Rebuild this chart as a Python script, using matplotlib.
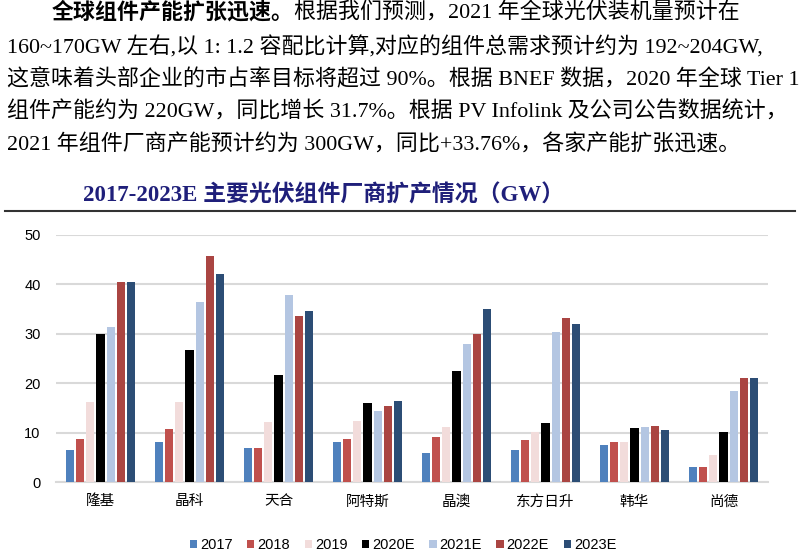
import matplotlib
matplotlib.use("Agg")
import numpy as np
import matplotlib.pyplot as plt
from matplotlib.lines import Line2D

# companies and yearly capacity (GW)
companies = ["隆基", "晶科", "天合", "阿特斯", "晶澳", "东方日升", "韩华", "尚德"]
years = ["2017", "2018", "2019", "2020E", "2021E", "2022E", "2023E"]
v2017 = [6.4, 8.0, 6.9, 8.0, 5.9, 6.5, 7.5, 3.0]
v2018 = [8.7, 10.7, 6.9, 8.7, 9.1, 8.6, 8.0, 3.0]
v2019 = [16.1, 16.1, 12.2, 12.3, 11.1, 10.2, 8.1, 5.4]
v2020 = [29.9, 26.8, 21.6, 16.0, 22.4, 12.0, 10.9, 10.2]
v2021 = [31.4, 36.5, 37.9, 14.4, 28.0, 30.4, 11.2, 18.5]
v2022 = [40.4, 45.7, 33.6, 15.4, 30.0, 33.1, 11.4, 21.0]
v2023 = [40.4, 42.2, 34.7, 16.4, 35.0, 31.9, 10.5, 21.0]
series = [v2017, v2018, v2019, v2020, v2021, v2022, v2023]
colors = ["#4F81BD", "#C0504D", "#F2DCDB", "#000000", "#B4C6E2", "#AA4542", "#2C4D75"]

# paragraph text above the chart
para_bold = "全球组件产能扩张迅速。"
para_first = "根据我们预测，2021 年全球光伏装机量预计在"
para_lines = [
    "160~170GW 左右,以 1: 1.2 容配比计算,对应的组件总需求预计约为 192~204GW,",
    "这意味着头部企业的市占率目标将超过 90%。根据 BNEF 数据，2020 年全球 Tier 1",
    "组件产能约为 220GW，同比增长 31.7%。根据 PV Infolink 及公司公告数据统计，",
    "2021 年组件厂商产能预计约为 300GW，同比+33.76%，各家产能扩张迅速。",
]
title = "2017-2023E 主要光伏组件厂商扩产情况（GW）"

serif = ["Liberation Serif", "Noto Sans CJK SC"]
sans = ["Liberation Sans", "Noto Sans CJK SC"]

W, H = 800, 558
fs = 15.8
fig = plt.figure(figsize=(8, 5.58), dpi=100)

t1 = fig.text(52 / W, 1 - 13 / H, para_bold, family=serif, fontsize=fs,
              fontweight="bold", va="center", ha="left")

ys = [47, 80, 112, 145]
for y, line in zip(ys, para_lines):
    fig.text(7 / W, 1 - y / H, line, family=serif, fontsize=fs, va="center", ha="left")

# title and rule
fig.text(83 / W, 1 - 195 / H, title, family=serif, fontsize=16.5,
         fontweight="bold", color="#1F1F7A", va="center", ha="left")
fig.add_artist(Line2D([5 / W, 795 / W], [1 - 211 / H, 1 - 211 / H],
                      transform=fig.transFigure, color="#333333", lw=1.5))

ax = fig.add_axes([56 / W, 1 - 482 / H, (768 - 56) / W, (482 - 235) / H])
# rest of the first line, right after the bold part
ax.annotate(para_first, xy=(1, 0.5), xycoords=t1, va="center", ha="left",
            family=serif, fontsize=fs, annotation_clip=False)

x = np.arange(len(companies))
pitch = 0.115
for i, (vals, c, yr) in enumerate(zip(series, colors, years)):
    ax.bar(x + (i - 3) * pitch, vals, width=0.095, color=c, label=yr, zorder=3)

ax.set_xlim(-0.5, len(companies) - 0.5)
ax.set_ylim(0, 50)
ax.set_yticks(range(0, 51, 10))
ax.set_xticks(x)
ax.set_xticklabels(companies, family=sans, fontsize=10.5)
for lab in ax.get_yticklabels():
    lab.set_family(sans)
    lab.set_fontsize(10.5)
ax.tick_params(length=0)
ax.tick_params(axis="y", pad=11)
ax.tick_params(axis="x", pad=9)
ax.grid(axis="y", color="#D9D9D9", lw=1.5, zorder=0)
for s in ["top", "right", "left"]:
    ax.spines[s].set_visible(False)
ax.spines["bottom"].set_color("#D9D9D9")
ax.spines["bottom"].set_linewidth(1.5)

fig.legend(loc="center", bbox_to_anchor=(403 / W, 1 - 545 / H), ncol=7, frameon=False,
           prop={"family": sans, "size": 10.5}, handlelength=0.5, handleheight=0.5,
           handletextpad=0.2, columnspacing=1.0)

fig.savefig("out.png", dpi=100)
